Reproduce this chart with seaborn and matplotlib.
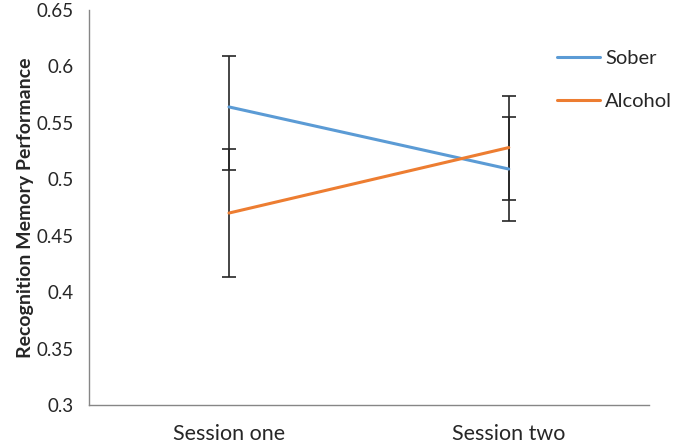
import pandas as pd
import seaborn as sns
import matplotlib.pyplot as plt
import numpy as np

sessions = ["Session one", "Session two"]
sober = [0.564, 0.509]
alcohol = [0.470, 0.528]
# asymmetric error (lower, upper)
sober_err_lo = [0.056, 0.046]
sober_err_hi = [0.045, 0.046]
alcohol_err_lo = [0.057, 0.046]
alcohol_err_hi = [0.057, 0.046]

df = pd.DataFrame({
    "pos": [0, 1, 0, 1],
    "score": sober + alcohol,
    "group": ["Sober"] * 2 + ["Alcohol"] * 2,
})

sns.set_style("white")
plt.rcParams["font.family"] = ["Lato", "DejaVu Sans"]

fig = plt.figure(figsize=(6.75, 4.47), dpi=100)
ax = fig.add_axes([0.132, 0.094, 0.829, 0.884])

palette = {"Sober": "#5B9BD5", "Alcohol": "#ED7D31"}
sns.lineplot(data=df, x="pos", y="score", hue="group", palette=palette,
             linewidth=2.2, ax=ax, legend=True)

ax.errorbar([0, 1], sober, yerr=[sober_err_lo, sober_err_hi], fmt="none",
            ecolor="#262626", elinewidth=1.2, capsize=5, capthick=1.2, zorder=1)
ax.errorbar([0, 1], alcohol, yerr=[alcohol_err_lo, alcohol_err_hi], fmt="none",
            ecolor="#262626", elinewidth=1.2, capsize=5, capthick=1.2, zorder=1)

ax.set_xlim(-0.5, 1.5)
ax.set_ylim(0.3, 0.65)
ax.set_yticks(np.arange(0.3, 0.651, 0.05))
ax.set_yticklabels(["0.3", "0.35", "0.4", "0.45", "0.5", "0.55", "0.6", "0.65"])
ax.set_xticks([-0.5, 0.5, 1.5])
ax.set_xticklabels([])
ax.set_xticks([0, 1], minor=True)
ax.set_xticklabels(sessions, minor=True)
ax.tick_params(axis="x", which="minor", length=0, pad=14, labelsize=15.5)
ax.tick_params(axis="x", which="major", length=6, color="#868686", direction="out")
ax.tick_params(axis="y", length=5, color="#868686", direction="out", labelsize=13.5, pad=6)

for s in ["top", "right"]:
    ax.spines[s].set_visible(False)
for s in ["left", "bottom"]:
    ax.spines[s].set_color("#868686")
    ax.spines[s].set_linewidth(1)

ax.set_xlabel("")
ax.set_ylabel("Recognition Memory Performance", fontsize=14, fontweight="bold", labelpad=2)

handles, labels = ax.get_legend_handles_labels()
ax.legend(handles, labels, loc="upper left", bbox_to_anchor=(0.825, 0.888),
          bbox_transform=fig.transFigure, frameon=False, fontsize=14.5,
          borderpad=0, borderaxespad=0, handlelength=2.15, handletextpad=0.25,
          labelspacing=1.3)

fig.savefig("out.png", dpi=100)
